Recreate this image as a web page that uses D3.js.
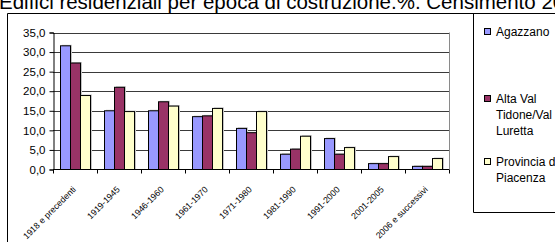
<!DOCTYPE html>
<html>
<head>
<meta charset="utf-8">
<script src="https://cdn.jsdelivr.net/npm/d3@7"></script>
<style>
  html, body { margin: 0; padding: 0; background: #fff; }
  svg { display: block; font-family: "Liberation Sans", Arial, sans-serif; }
</style>
</head>
<body>
<svg id="chart" width="555" height="242"></svg>
<script>
// data
var categories = ["1918 e precedenti", "1919-1945", "1946-1960", "1961-1970", "1971-1980",
                  "1981-1990", "1991-2000", "2001-2005", "2006 e successivi"];
var seriesNames = ["Agazzano", "Alta Val Tidone/Val Luretta", "Provincia di Piacenza"];
var agazzano = [31.6, 15.0, 15.0, 13.5, 10.5, 3.9, 7.9, 1.5, 0.8];
var altaVal  = [27.2, 21.0, 17.3, 13.7, 9.4, 5.2, 3.9, 1.5, 0.8];
var provincia = [18.9, 14.8, 16.2, 15.6, 14.8, 8.5, 5.6, 3.3, 2.8];
var yTicks = [0, 5, 10, 15, 20, 25, 30, 35];

var colors = ["#9999FF", "#993366", "#FFFFCC"];
var values = [agazzano, altaVal, provincia];

var svg = d3.select("#chart");

// title (wider than the picture, clipped like in the original)
svg.append("text")
  .attr("x", -1)
  .attr("y", 8.5)
  .style("font-size", "20.5px")
  .text("Edifici residenziali per epoca di costruzione.%. Censimento 2011");

// outer chart border
svg.append("path")
  .attr("d", "M7.5,242V13.5H555")
  .attr("fill", "none").attr("stroke", "#000");

// legend box
svg.append("path")
  .attr("d", "M473.5,13.5V212.5H555")
  .attr("fill", "none").attr("stroke", "#000");

var x = d3.scaleBand().domain(categories).range([53, 449]);
var xs = d3.scaleBand().domain(d3.range(3)).range([7.5, 37.5]);
var y = d3.scaleLinear().domain([0, 35]).range([169.5, 32.5]);

var g = svg.append("g");

// gridlines
g.selectAll(".grid").data(yTicks.slice(1))
  .enter().append("line")
  .attr("x1", 53).attr("x2", 449)
  .attr("y1", function(d){ return Math.round(y(d)) + 0.5; })
  .attr("y2", function(d){ return Math.round(y(d)) + 0.5; })
  .attr("stroke", "#3a3a3a");

// plot area right border
g.append("line")
  .attr("x1", 449.5).attr("x2", 449.5)
  .attr("y1", 32.5).attr("y2", 169.5)
  .attr("stroke", "#8a8a8a");

// bars
var groups = g.selectAll(".grp").data(categories)
  .enter().append("g")
  .attr("transform", function(d){ return "translate(" + x(d) + ",0)"; });

values.forEach(function(vals, si){
  // light shadow
  groups.append("rect")
    .attr("x", function(d, i){ return xs(si) + 1.5; })
    .attr("y", function(d, i){ return y(vals[i]) - 1; })
    .attr("width", xs.bandwidth())
    .attr("height", function(d, i){ return Math.max(0, y(0) - y(vals[i]) + 1); })
    .attr("fill", "#c4c4c4");
});
values.forEach(function(vals, si){
  groups.append("rect")
    .attr("x", function(d, i){ return xs(si); })
    .attr("y", function(d, i){ return y(vals[i]); })
    .attr("width", xs.bandwidth())
    .attr("height", function(d, i){ return y(0) - y(vals[i]); })
    .attr("fill", colors[si])
    .attr("stroke", "#000")
    .attr("stroke-width", 1);
});

// y axis
var yAxis = d3.axisLeft(y).tickValues(yTicks).tickSize(4).tickPadding(4)
  .tickFormat(function(d){ return d3.format(".1f")(d).replace(".", ","); });
svg.append("g")
  .attr("transform", "translate(53.5,0)")
  .call(yAxis)
  .call(function(a){
    a.select(".domain").attr("stroke", "#000");
    a.selectAll("text").style("font-size", "11.5px").attr("fill", "#000")
      .style("font-family", "Liberation Sans, Arial, sans-serif");
  });

// x axis: ticks between categories
var xAxisG = svg.append("g").attr("transform", "translate(0,169.5)");
xAxisG.append("line").attr("x1", 53).attr("x2", 449).attr("stroke", "#000");
xAxisG.selectAll(".tk").data(categories.concat([null]))
  .enter().append("line")
  .attr("x1", function(d, i){ return Math.round(53 + i * x.step()) + 0.5; })
  .attr("x2", function(d, i){ return Math.round(53 + i * x.step()) + 0.5; })
  .attr("y1", 0).attr("y2", 4)
  .attr("stroke", "#000");
xAxisG.selectAll(".lbl").data(categories)
  .enter().append("text")
  .attr("text-anchor", "end")
  .attr("transform", function(d){
    return "translate(" + (x(d) + x.bandwidth() / 2 + 1.5) + ",20.5) rotate(-45)";
  })
  .style("font-size", "8.8px")
  .text(function(d){ return d; });

// legend
var legendItems = [
  { lines: ["Agazzano"], y: 32 },
  { lines: ["Alta Val", "Tidone/Val", "Luretta"], y: 99 },
  { lines: ["Provincia di", "Piacenza"], y: 162 }
];
var lg = svg.append("g");
legendItems.forEach(function(item, i){
  lg.append("rect")
    .attr("x", 484.5).attr("y", item.y - 3.5)
    .attr("width", 6).attr("height", 6)
    .attr("fill", colors[i]).attr("stroke", "#000");
  var t = lg.append("text")
    .attr("x", 496).attr("y", item.y + 4)
    .style("font-size", "12px");
  item.lines.forEach(function(l, j){
    t.append("tspan").attr("x", 496).attr("dy", j === 0 ? 0 : 16).text(l);
  });
});
</script>
</body>
</html>
